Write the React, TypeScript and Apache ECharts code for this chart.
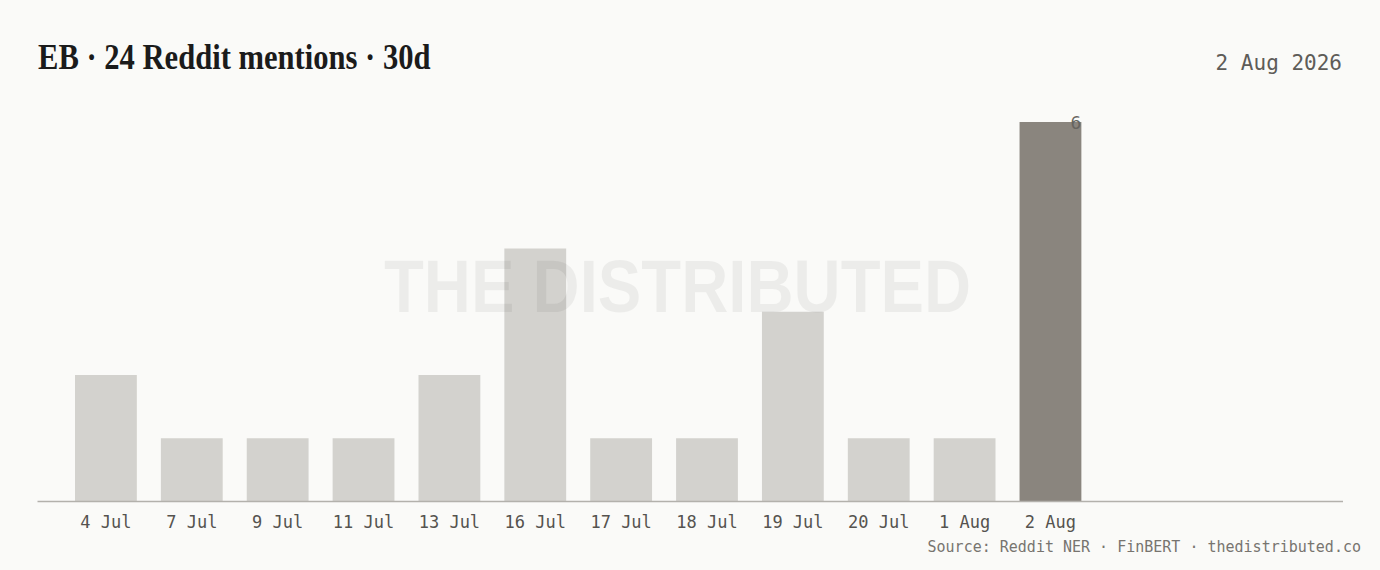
import React, { useEffect, useRef } from "react";
import * as echarts from "echarts";

const categories = ["4 Jul", "7 Jul", "9 Jul", "11 Jul", "13 Jul", "16 Jul", "17 Jul", "18 Jul", "19 Jul", "20 Jul", "1 Aug", "2 Aug"];
const mentions = [2, 1, 1, 1, 2, 4, 1, 1, 3, 1, 1, 6];
const highlightIndex = 11;
const titleText = "EB · 24 Reddit mentions · 30d";
const dateText = "2 Aug 2026";
const sourceText = "Source: Reddit NER · FinBERT · thedistributed.co";
const watermarkText = "THE DISTRIBUTED";

const MONO = "'DejaVu Sans Mono', 'Liberation Mono', monospace";
const SERIF = "'Liberation Serif', 'DejaVu Serif', serif";
const SANS = "'Liberation Sans', Arial, sans-serif";

export default function App() {
  const ref = useRef<HTMLDivElement>(null);
  useEffect(() => {
    if (!ref.current) return;
    const chart = echarts.init(ref.current, undefined, { renderer: "svg" });
    const data = mentions.map((v, i) =>
      i === highlightIndex
        ? {
            value: v,
            itemStyle: { color: "#8a857e" },
            label: {
              show: true,
              position: ["100%", 0],
              align: "right",
              verticalAlign: "middle",
              formatter: "{c}",
              fontFamily: MONO,
              fontSize: 18,
              color: "#666460",
            },
          }
        : { value: v }
    );
    chart.setOption({
      animation: false,
      backgroundColor: "#fafaf8",
      grid: { left: 63, right: 286.6, top: 122, bottom: 68.5 },
      xAxis: {
        type: "category",
        data: categories,
        axisLine: { show: false },
        axisTick: { show: false },
        axisLabel: {
          fontFamily: MONO,
          fontSize: 17,
          color: "#55534f",
          margin: 12,
          interval: 0,
        },
      },
      yAxis: {
        type: "value",
        min: 0,
        max: 6,
        show: false,
        splitLine: { show: false },
      },
      series: [
        {
          type: "bar",
          data,
          barCategoryGap: "28%",
          itemStyle: { color: "#d3d2ce" },
          z: 2,
        },
      ],
      graphic: [
        {
          type: "line",
          shape: { x1: 37.5, y1: 501.5, x2: 1343, y2: 501.5 },
          style: { stroke: "#b3b1ac", lineWidth: 1.3 },
          z: 10,
        },
        {
          type: "text",
          x: 38,
          y: 75,
          scaleX: 0.85,
          style: {
            text: titleText,
            fontFamily: SERIF,
            fontWeight: "bold",
            fontSize: 36,
            fill: "#1b1b1b",
            verticalAlign: "bottom",
          },
          z: 20,
        },
        {
          type: "text",
          x: 1342,
          y: 63,
          style: {
            text: dateText,
            fontFamily: MONO,
            fontSize: 21,
            fill: "#5e5c58",
            align: "right",
            verticalAlign: "middle",
          },
          z: 20,
        },
        {
          type: "text",
          x: 1361,
          y: 547,
          style: {
            text: sourceText,
            fontFamily: MONO,
            fontSize: 15,
            fill: "#77746f",
            align: "right",
            verticalAlign: "middle",
          },
          z: 20,
        },
        {
          type: "text",
          x: 384,
          y: 286,
          scaleX: 0.87,
          style: {
            text: watermarkText,
            fontFamily: SANS,
            fontWeight: "bold",
            fontSize: 75,
            fill: "rgba(0,0,0,0.055)",
            align: "left",
            verticalAlign: "middle",
          },
          z: 30,
        },
      ],
    });
    return () => chart.dispose();
  }, []);
  return (
    <div
      ref={ref}
      style={{ position: "fixed", left: 0, top: 0, width: 1380, height: 570 }}
    />
  );
}
